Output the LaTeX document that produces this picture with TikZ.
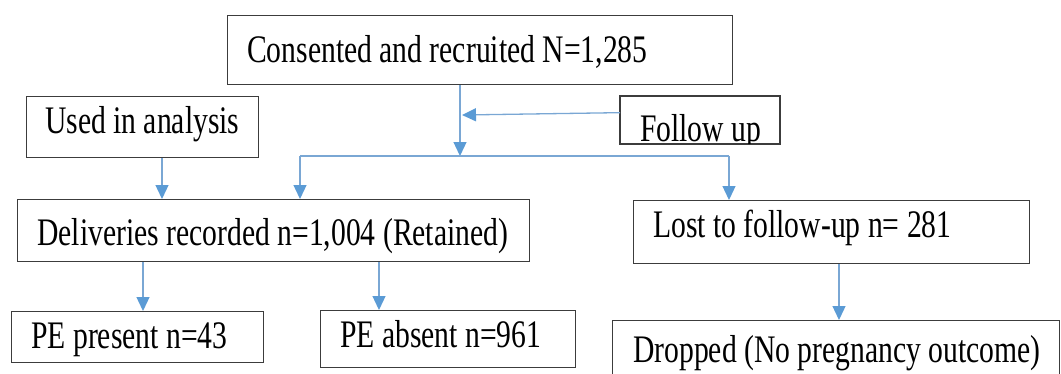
\documentclass[tikz,border=0pt]{standalone}
\usepackage{fontspec}
\setmainfont{Liberation Serif}[FakeStretch=0.76]
\usetikzlibrary{arrows.meta}
\definecolor{boxline}{HTML}{3C3C3C}
\definecolor{connline}{HTML}{7AA7D4}
\definecolor{tipblue}{HTML}{5B9BD5}
\tikzset{
  box/.style={draw=boxline, line width=1.3pt, inner sep=0pt, anchor=north west, fill=white},
  txt/.style={anchor=base west, inner sep=0pt, font=\fontsize{39}{40}\selectfont, text=black},
  conn/.style={draw=connline, line width=1.3pt},
  arr/.style={conn, -{Triangle[length=14pt, width=13pt, color=tipblue]}},
}
\begin{document}
\begin{tikzpicture}[x=1pt, y=-1pt]
\useasboundingbox (0,0) rectangle (1061,373);
% boxes
\node[box, minimum width=505pt, minimum height=69pt] (cons) at (227,15) {};
\node[box, minimum width=232pt, minimum height=61pt] (used) at (26,96) {};
\node[box, minimum width=159pt, minimum height=47pt] (follow) at (620,96) {};
\node[box, minimum width=512pt, minimum height=62pt] (deliv) at (17,199) {};
\node[box, minimum width=396pt, minimum height=63pt] (lost) at (633,200) {};
\node[box, minimum width=252pt, minimum height=51pt] (pepres) at (11,311) {};
\node[box, minimum width=255pt, minimum height=57pt] (peabs) at (320,310) {};
\node[box, minimum width=447pt, minimum height=70pt] (drop) at (612,320) {};
% texts
\node[txt] (constxt) at (247,62) {Consented and recruited N=1,285};
\node[txt] (usedtxt) at (45,133) {Used in analysis};
\begin{scope}
  \clip (follow.north west) rectangle ([yshift=0.6pt]follow.south east);
  \node[txt] (followtxt) at (640,141.5) {Follow up};
\end{scope}
\draw[draw=boxline, line width=1.3pt] (follow.north west) rectangle (follow.south east);
\node[txt] (delivtxt) at (37,245) {Deliveries recorded n=1,004 (Retained)};
\node[txt] (losttxt) at (653,237) {Lost to follow-up n= 281};
\node[txt] (peprestxt) at (31,348) {PE present n=43};
\node[txt] (peabstxt) at (340,347) {PE absent n=961};
\node[txt] (droptxt) at (633,362) {Dropped (No pregnancy outcome)};
% connectors
\coordinate (jn) at (460,156);
\coordinate (bl) at (300,156);
\coordinate (br) at (729,156);
\coordinate (fuin) at (462,115);
\draw[arr] (cons.south -| jn) -- (jn);
\draw[conn] (bl) -- (br);
\draw[arr] (bl) -- (deliv.north -| bl);
\draw[arr] (br) -- (lost.north -| br);
\draw[arr] ([yshift=7.5pt]follow.west) -- (fuin);
\draw[arr] (used.south -| 162,0) -- (deliv.north -| 162,0);
\draw[arr] (deliv.south -| 143,0) -- (pepres.north -| 143,0);
\draw[arr] (deliv.south -| 379,0) -- (peabs.north -| 379,0);
\draw[arr] (lost.south -| 839,0) -- (drop.north -| 839,0);
\end{tikzpicture}
\end{document}
